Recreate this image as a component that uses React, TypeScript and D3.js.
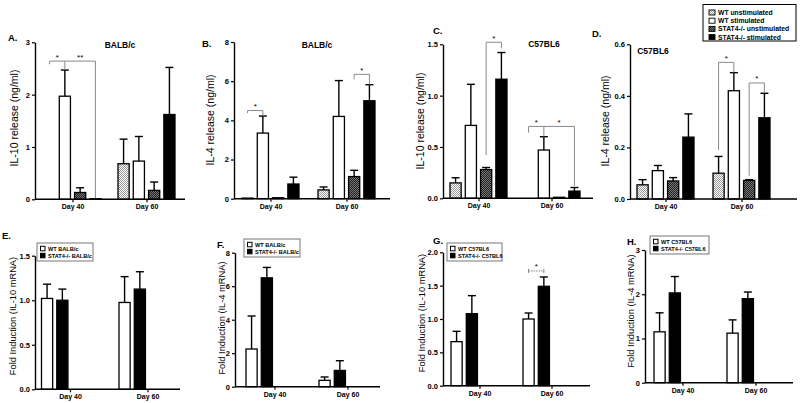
import React, { useEffect, useRef } from "react";
import * as d3 from "d3";

const width = 800;
const height = 403;
const font = "'Liberation Sans', Arial, sans-serif";

const days = ["Day 40", "Day 60"];
const topSeries = ["WT unstimulated", "WT stimulated", "STAT4-/- unstimulated", "STAT4-/- stimulated"];
const balbSeries = ["WT BALB/c", "STAT4-/- BALB/c"];
const c57Series = ["WT C57BL6", "STAT4-/- C57BL6"];

// A. IL-10 release, BALB/c
const aDay40 = [0, 1.97, 0.13, 0.01];
const aDay40Err = [0, 0.5, 0.09, 0];
const aDay60 = [0.68, 0.73, 0.17, 1.62];
const aDay60Err = [0.47, 0.47, 0.16, 0.9];
const aTicks = [0, 1, 2, 3];

// B. IL-4 release, BALB/c
const bDay40 = [0.03, 3.35, 0.05, 0.75];
const bDay40Err = [0, 0.87, 0, 0.35];
const bDay60 = [0.45, 4.2, 1.13, 5.0];
const bDay60Err = [0.15, 1.83, 0.32, 0.82];
const bTicks = [0, 2, 4, 6, 8];

// C. IL-10 release, C57BL6
const cDay40 = [0.15, 0.71, 0.28, 1.16];
const cDay40Err = [0.05, 0.4, 0.02, 0.26];
const cDay60 = [0, 0.47, 0.01, 0.07];
const cDay60Err = [0, 0.13, 0, 0.035];
const cTicks = [0, 0.5, 1.0, 1.5];

// D. IL-4 release, C57BL6
const dDay40 = [0.055, 0.11, 0.07, 0.24];
const dDay40Err = [0.02, 0.02, 0.013, 0.09];
const dDay60 = [0.1, 0.42, 0.072, 0.315];
const dDay60Err = [0.065, 0.07, 0.003, 0.095];
const dTicks = [0, 0.2, 0.4, 0.6];

// E-H. fold induction (mRNA)
const eDay40 = [1.02, 1.0];
const eDay40Err = [0.16, 0.125];
const eDay60 = [0.975, 1.125];
const eDay60Err = [0.29, 0.195];
const eTicks = [0, 0.5, 1.0, 1.5];

const fDay40 = [2.25, 6.5];
const fDay40Err = [1.97, 0.62];
const fDay60 = [0.38, 0.97];
const fDay60Err = [0.2, 0.58];
const fTicks = [0, 2, 4, 6, 8];

const gDay40 = [0.66, 1.08];
const gDay40Err = [0.155, 0.27];
const gDay60 = [1.0, 1.49];
const gDay60Err = [0.09, 0.14];
const gTicks = [0, 0.5, 1.0, 1.5, 2.0];

const hDay40 = [1.15, 2.03];
const hDay40Err = [0.43, 0.37];
const hDay60 = [1.12, 1.9];
const hDay60Err = [0.3, 0.15];
const hTicks = [0, 1, 2, 3];

// significance brackets: slot indices and y values
const aBrackets = [
  { day: "Day 40", from: 0, to: 1, at: 2.64, left: 2.58, right: 2.47, mark: "*" },
  { day: "Day 40", from: 1, to: 3, at: 2.64, left: 2.64, right: 0.02, mark: "**" }
];
const bBrackets = [
  { day: "Day 40", from: 0, to: 1, at: 4.5, left: 4.37, right: 4.22, mark: "*" },
  { day: "Day 60", from: 2, to: 3, at: 6.35, left: 6.1, right: 5.82, mark: "*" }
];
const cBrackets = [
  { day: "Day 40", from: 2, to: 3, at: 1.52, left: 0.42, right: 1.46, mark: "*" },
  { day: "Day 60", from: 0, to: 1, at: 0.7, left: 0.64, right: 0.6, mark: "*" },
  { day: "Day 60", from: 1, to: 3, at: 0.7, left: 0.7, right: 0.12, mark: "*" }
];
const dBrackets = [
  { day: "Day 60", from: 0, to: 1, at: 0.53, left: 0.19, right: 0.49, mark: "*" },
  { day: "Day 60", from: 2, to: 3, at: 0.45, left: 0.09, right: 0.41, mark: "*" }
];
const gBrackets = [
  { day: "Day 60", from: 0, to: 1, at: 1.72, left: 1.72, right: 1.72, mark: "*", capped: true }
];

const fills4 = ["url(#lightHatch)", "#fff", "url(#darkHatch)", "#000"];
const fills2 = ["#fff", "#000"];

const panels = [
  { letter: "A.", title: "BALB/c", ylabel: "IL-10 release (ng/ml)", values: [aDay40, aDay60], errs: [aDay40Err, aDay60Err],
    ticks: aTicks, fmt: d3.format("d"), brackets: aBrackets, fills: fills4, labelSize: 10.5,
    x0: 35, x1: 185, g0: 72.5, g1: 146.5, yTop: 42.3, yBottom: 199.3, labelX: 14, labelY: 118,
    letterX: 8, letterY: 41, titleX: 120, titleY: 47.5 },
  { letter: "B.", title: "BALB/c", ylabel: "IL-4 release (ng/ml)", values: [bDay40, bDay60], errs: [bDay40Err, bDay60Err],
    ticks: bTicks, fmt: d3.format("d"), brackets: bBrackets, fills: fills4, labelSize: 10.5,
    x0: 234, x1: 390, g0: 270.5, g1: 346.5, yTop: 42, yBottom: 198.7, labelX: 210, labelY: 120,
    letterX: 202, letterY: 46.5, titleX: 317, titleY: 47.5 },
  { letter: "C.", title: "C57BL6", ylabel: "IL-10 release (ng/ml)", values: [cDay40, cDay60], errs: [cDay40Err, cDay60Err],
    ticks: cTicks, fmt: d3.format(".1f"), brackets: cBrackets, fills: fills4, labelSize: 10.5,
    x0: 443, x1: 593, g0: 478.5, g1: 551.5, yTop: 44.3, yBottom: 198.3, labelX: 420, labelY: 121,
    letterX: 433, letterY: 34, titleX: 544, titleY: 46.5 },
  { letter: "D.", title: "C57BL6", ylabel: "IL-4 release (ng/ml)", values: [dDay40, dDay60], errs: [dDay40Err, dDay60Err],
    ticks: dTicks, fmt: d3.format(".1f"), brackets: dBrackets, fills: fills4, labelSize: 10.5,
    x0: 630, x1: 797, g0: 665.5, g1: 741.5, yTop: 44.3, yBottom: 199, labelX: 605, labelY: 121,
    letterX: 592, letterY: 36.5, titleX: 653, titleY: 54 },
  { letter: "E.", ylabel: "Fold Induction (IL-10 mRNA)", values: [eDay40, eDay60], errs: [eDay40Err, eDay60Err],
    ticks: eTicks, fmt: d3.format(".1f"), brackets: [], fills: fills2, legend: balbSeries, labelSize: 9.3,
    legendBox: [37, 243, 56, 18],
    x0: 35, x1: 180, g0: 70, g1: 147.5, yTop: 255.7, yBottom: 389.3, labelX: 13, labelY: 316,
    letterX: 2, letterY: 238.5 },
  { letter: "F.", ylabel: "Fold Induction (IL-4 mRNA)", values: [fDay40, fDay60], errs: [fDay40Err, fDay60Err],
    ticks: fTicks, fmt: d3.format("d"), brackets: [], fills: fills2, legend: balbSeries, labelSize: 9.3,
    legendBox: [244, 239, 56, 18],
    x0: 235, x1: 380, g0: 274.5, g1: 347.5, yTop: 252.7, yBottom: 386.7, labelX: 221.5, labelY: 318,
    letterX: 217, letterY: 247.5 },
  { letter: "G.", ylabel: "Fold Induction (IL-10 mRNA)", values: [gDay40, gDay60], errs: [gDay40Err, gDay60Err],
    ticks: gTicks, fmt: d3.format(".1f"), brackets: gBrackets, fills: fills2, legend: c57Series, labelSize: 9.3,
    legendBox: [447, 243, 55, 18],
    x0: 443, x1: 590, g0: 479.5, g1: 551.5, yTop: 252.3, yBottom: 385.7, labelX: 422, labelY: 313,
    letterX: 433, letterY: 243.5 },
  { letter: "H.", ylabel: "Fold Induction (IL-4 mRNA)", values: [hDay40, hDay60], errs: [hDay40Err, hDay60Err],
    ticks: hTicks, fmt: d3.format("d"), brackets: [], fills: fills2, legend: c57Series, labelSize: 9.3,
    legendBox: [650, 236, 59, 18],
    x0: 645, x1: 793, g0: 682.5, g1: 755.5, yTop: 250, yBottom: 382.7, labelX: 631, labelY: 311,
    letterX: 627, letterY: 245 }
];

const App = () => {
  const chart = useRef(null);

  useEffect(() => {
    const svg = d3.select(chart.current);
    svg.selectAll("*").remove();

    const defs = svg.append("defs");
    const light = defs.append("pattern").attr("id", "lightHatch")
      .attr("width", 2).attr("height", 2).attr("patternUnits", "userSpaceOnUse");
    light.append("rect").attr("width", 2).attr("height", 2).attr("fill", "#fff");
    light.append("rect").attr("width", 1).attr("height", 1).attr("fill", "#9a9a9a");
    light.append("rect").attr("x", 1).attr("y", 1).attr("width", 1).attr("height", 1).attr("fill", "#9a9a9a");
    const dark = defs.append("pattern").attr("id", "darkHatch")
      .attr("width", 2).attr("height", 2).attr("patternUnits", "userSpaceOnUse");
    dark.append("rect").attr("width", 2).attr("height", 2).attr("fill", "#1e1e1e");
    dark.append("rect").attr("width", 1).attr("height", 1).attr("fill", "#7a7a7a");
    dark.append("rect").attr("x", 1).attr("y", 1).attr("width", 1).attr("height", 1).attr("fill", "#7a7a7a");

    const slot = d3.scaleBand().domain(d3.range(4)).range([-28.5, 28.5]).paddingInner(0.27);

    panels.forEach(p => {
      const g = svg.append("g").attr("font-family", font);
      const y = d3.scaleLinear().domain([0, p.ticks[p.ticks.length - 1]]).range([p.yBottom, p.yTop]);
      const gx = d3.scalePoint().domain(days).range([p.g0, p.g1]);
      const bw = slot.bandwidth();

      // bars + error bars
      p.values.forEach((vals, di) => {
        vals.forEach((v, si) => {
          const x = gx(days[di]) + slot(si);
          g.append("rect")
            .attr("x", x).attr("y", y(v))
            .attr("width", bw).attr("height", y(0) - y(v))
            .attr("fill", p.fills[si])
            .attr("stroke", "#000").attr("stroke-width", 1.3);
          const e = p.errs[di][si];
          if (e > 0) {
            const cx = x + bw / 2;
            g.append("line").attr("x1", cx).attr("x2", cx)
              .attr("y1", y(v)).attr("y2", y(v + e))
              .attr("stroke", "#000").attr("stroke-width", 1.4);
            g.append("line").attr("x1", cx - 4).attr("x2", cx + 4)
              .attr("y1", y(v + e)).attr("y2", y(v + e))
              .attr("stroke", "#000").attr("stroke-width", 1.4);
          }
        });
      });

      // brackets
      p.brackets.forEach(b => {
        const xl = gx(b.day) + slot(b.from) + bw / 2;
        const xr = gx(b.day) + slot(b.to) + bw / 2;
        if (b.capped) {
          g.append("line").attr("x1", xl).attr("x2", xr)
            .attr("y1", y(b.at)).attr("y2", y(b.at))
            .attr("stroke", "#777").attr("stroke-width", 0.9).attr("stroke-dasharray", "1.5,1");
          [xl, xr].forEach(xx => g.append("line").attr("x1", xx).attr("x2", xx)
            .attr("y1", y(b.at) - 2).attr("y2", y(b.at) + 2)
            .attr("stroke", "#777").attr("stroke-width", 0.9));
        } else {
          g.append("path")
            .attr("d", `M${xl},${y(b.left)}V${y(b.at)}H${xr}V${y(b.right)}`)
            .attr("fill", "none").attr("stroke", "#8a8a8a").attr("stroke-width", 1);
        }
        g.append("text").attr("x", (xl + xr) / 2).attr("y", y(b.at) - 1.5)
          .attr("text-anchor", "middle").attr("font-size", 8).attr("fill", "#000")
          .text(b.mark);
      });

      // y axis
      const ya = g.append("g").attr("transform", `translate(${p.x0},0)`)
        .call(d3.axisLeft(y).tickValues(p.ticks).tickFormat(p.fmt).tickSize(3).tickSizeOuter(0).tickPadding(2));
      ya.select(".domain").attr("stroke-width", 1.4);
      ya.selectAll(".tick line").attr("stroke-width", 1.2);
      ya.selectAll("text").attr("font-size", 7.5).attr("font-weight", "bold").attr("font-family", font);

      // x axis
      g.append("line").attr("x1", p.x0).attr("x2", p.x1)
        .attr("y1", y(0)).attr("y2", y(0))
        .attr("stroke", "#000").attr("stroke-width", 1.4);
      const xa = g.append("g").attr("transform", `translate(0,${y(0)})`)
        .call(d3.axisBottom(gx).tickSize(3).tickPadding(2));
      xa.select(".domain").remove();
      xa.selectAll(".tick line").attr("stroke-width", 1.2);
      xa.selectAll("text").attr("font-size", 7).attr("font-weight", "bold").attr("font-family", font);

      // y label
      g.append("text")
        .attr("transform", `translate(${p.labelX},${p.labelY}) rotate(-90)`)
        .attr("dy", "0.35em").attr("text-anchor", "middle")
        .attr("font-size", p.labelSize).text(p.ylabel);

      // panel letter & title
      g.append("text").attr("x", p.letterX).attr("y", p.letterY)
        .attr("font-size", 9.5).attr("font-weight", "bold").text(p.letter);
      if (p.title) {
        g.append("text").attr("x", p.titleX).attr("y", p.titleY)
          .attr("text-anchor", "middle").attr("font-size", 8.5).attr("font-weight", "bold")
          .text(p.title);
      }

      // small legends
      if (p.legend) {
        const [lx, ly, lw, lh] = p.legendBox;
        g.append("rect").attr("x", lx).attr("y", ly).attr("width", lw).attr("height", lh)
          .attr("fill", "#fff").attr("stroke", "#555").attr("stroke-width", 0.8);
        p.legend.forEach((name, i) => {
          const cy = ly + 5.5 + i * 7;
          g.append("rect").attr("x", lx + 3.5).attr("y", cy - 2.2).attr("width", 4.5).attr("height", 4.5)
            .attr("fill", p.fills[i]).attr("stroke", "#000").attr("stroke-width", 1);
          g.append("text").attr("x", lx + 11).attr("y", cy + 2)
            .attr("font-size", 5.6).attr("font-weight", "bold").text(name);
        });
      }
    });

    // legend for top row
    const lg = svg.append("g").attr("font-family", font);
    lg.append("rect").attr("x", 703).attr("y", 4.5).attr("width", 93).attr("height", 36.5)
      .attr("fill", "#fff").attr("stroke", "#000").attr("stroke-width", 1);
    topSeries.forEach((name, i) => {
      const cy = 12.5 + i * 8.2;
      lg.append("rect").attr("x", 709).attr("y", cy - 2.5).attr("width", 6).attr("height", 5)
        .attr("fill", fills4[i]).attr("stroke", "#000").attr("stroke-width", 0.9);
      lg.append("text").attr("x", 718).attr("y", cy + 2.5)
        .attr("font-size", 6.8).attr("font-weight", "bold").text(name);
    });
  }, []);

  return (
    <svg
      ref={chart}
      width={width}
      height={height}
      viewBox={`0 0 ${width} ${height}`}
      style={{ position: "absolute", left: 0, top: 0, background: "#fff" }}
    ></svg>
  );
};

export default App;
